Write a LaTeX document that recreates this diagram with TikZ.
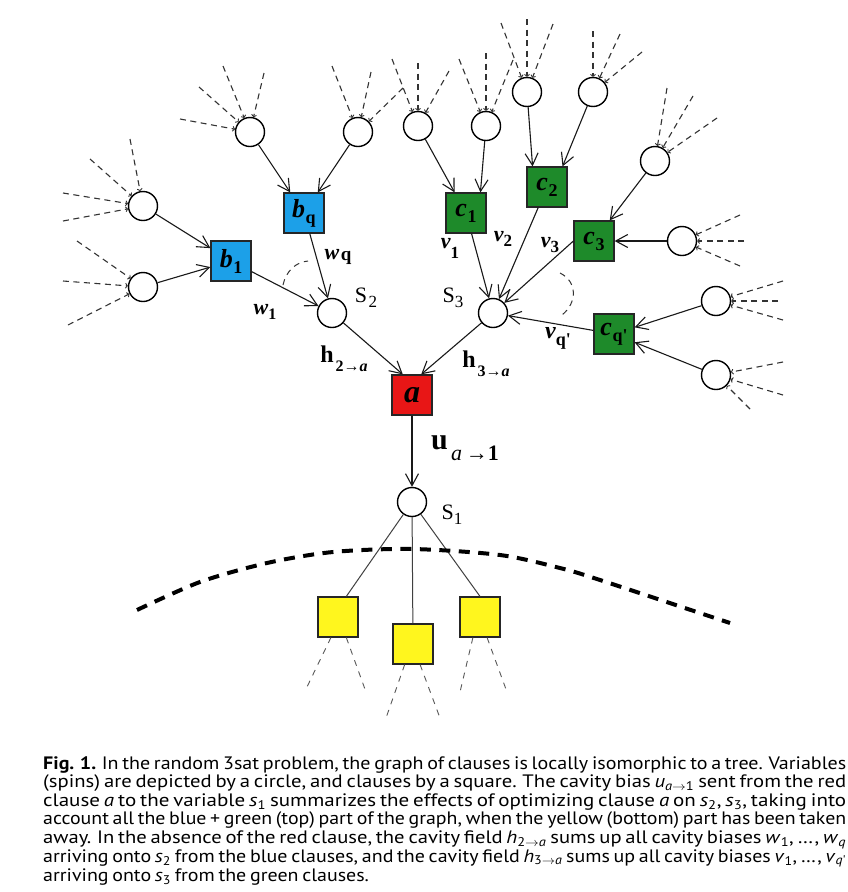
\documentclass[tikz,border=0pt]{standalone}
\usepackage{fontspec}
\setmainfont{Liberation Serif}
\newfontfamily\capfont{PT Sans}
\usetikzlibrary{arrows.meta}
\definecolor{bblue}{RGB}{28,160,232}
\definecolor{cgreen}{RGB}{30,138,42}
\definecolor{ared}{RGB}{232,22,22}
\definecolor{yyel}{RGB}{255,246,30}
\newcommand\fs[1]{\fontsize{#1}{#1}\selectfont}
\newcommand\boxlab[2]{{\fs{26}\bfseries\itshape #1}\kern0.5pt\raisebox{-6pt}{\fs{18}\bfseries #2}}
\newcommand\cv[2]{\textit{#1}\textsubscript{#2}}
\newsavebox\capbox
\newcommand\capline[1]{\sbox\capbox{#1}\pgfmathsetmacro\capr{803/\the\wd\capbox}\xdef\lastcapr{\capr}\scalebox{\capr}[1]{\usebox\capbox}}
\newcommand\caplast[1]{\scalebox{\lastcapr}[1]{#1}}
\tikzset{
  var/.style={circle,draw=black,line width=1.4pt,minimum size=29pt,inner sep=0pt,fill=white},
  clause/.style={rectangle,draw=black!85,line width=1.2pt,minimum size=40pt,inner sep=0pt},
  edge/.style={line width=1.1pt,draw=black!90,-{Straight Barb[length=12pt,width=13pt,line width=1.1pt]}},
  plainedge/.style={line width=1pt,draw=black!75},
  spoke/.style={line width=1.1pt,draw=black!80,dash pattern=on 6pt off 4.5pt,-{Straight Barb[length=1.8pt,width=5pt,line width=0.9pt]}},
  yspoke/.style={line width=0.9pt,draw=black!65,dash pattern=on 6pt off 6pt},
  anglearc/.style={line width=1pt,draw=black!80,dash pattern=on 6pt off 5pt},
  lab/.style={inner sep=0pt,anchor=center}
}
\begin{document}
\begin{tikzpicture}[x=1pt,y=-1pt]
\useasboundingbox (0,0) rectangle (848,892);
\fill[white] (0,0) rectangle (848,892);

% variables
\node[var] (L1) at (143,206) {};
\node[var] (L2) at (143,287) {};
\node[var] (B1) at (250,132) {};
\node[var] (B2) at (358,132) {};
\node[var] (C1a) at (418,126) {};
\node[var] (C1b) at (486,126) {};
\node[var] (C2a) at (527,92) {};
\node[var] (C2b) at (593,92) {};
\node[var] (C3a) at (655,161) {};
\node[var] (C3b) at (682,241) {};
\node[var] (Cq1) at (716,301) {};
\node[var] (Cq2) at (716,375) {};
\node[var] (s2) at (332,313) {};
\node[var] (s3) at (493,313) {};
\node[var] (s1) at (412,502) {};

% clauses
\node[clause,fill=bblue] (b1) at (231,261) {\boxlab{b}{1}};
\node[clause,fill=bblue] (bq) at (304,213) {\boxlab{b}{q}};
\node[clause,fill=cgreen] (c1) at (466,213) {\boxlab{c}{1}};
\node[clause,fill=cgreen] (c2) at (547,187) {\boxlab{c}{2}};
\node[clause,fill=cgreen] (c3) at (594,241) {\boxlab{c}{3}};
\node[clause,fill=cgreen] (cq) at (614,334) {\boxlab{c}{q\textquotesingle}};
\node[clause,fill=ared] (a) at (412,395) {{\fs{32}\bfseries\itshape a}};
\node[clause,fill=yyel] (Y1) at (338,617) {};
\node[clause,fill=yyel] (Y2) at (413,644) {};
\node[clause,fill=yyel] (Y3) at (480,617) {};

% dashed spokes of outer variables
\foreach \c/\x/\y [count=\i] in {
  L1/130/139, L1/90/159, L1/63/193, L1/63/221,
  L2/77/241, L2/63/281, L2/68/325,
  B1/223/66, B1/264/73, B1/199/87, B1/180/119,
  B2/332/66, B2/371/72, B2/403/88,
  C1a/392/59, C1a/418/63, C1a/449/71,
  C1b/459/59, C1b/486/53, C1b/513/60,
  C2a/501/23, C2a/527/19, C2a/553/24,
  C2b/593/31, C2b/620/34, C2b/642/52,
  C3a/667/88, C3a/693/96, C3a/717/118,
  C3b/740/215, C3b/744/241, C3b/740/266,
  Cq1/783/281, Cq1/778/301, Cq1/783/320,
  Cq2/783/362, Cq2/783/395, Cq2/750/409}
{
  \coordinate (sp\i) at (\x,\y);
  \draw[spoke] (sp\i) -- (\c);
}

% dashed lines below yellow clauses
\coordinate (y1a) at (305,691);
\coordinate (y1b) at (366,692);
\coordinate (y2a) at (386,718);
\coordinate (y2b) at (440,718);
\coordinate (y3a) at (460,692);
\coordinate (y3b) at (507,692);
\draw[yspoke] (Y1.-109) -- (y1a);
\draw[yspoke] (Y1.-68) -- (y1b);
\draw[yspoke] (Y2.-112) -- (y2a);
\draw[yspoke] (Y2.-71) -- (y2b);
\draw[yspoke] (Y3.-109) -- (y3a);
\draw[yspoke] (Y3.-71) -- (y3b);

% connectors
\draw[edge] (L1) -- (b1);
\draw[edge] (L2) -- (b1);
\draw[edge] (B1) -- (bq);
\draw[edge] (B2) -- (bq);
\draw[edge] (b1) -- (s2);
\draw[edge] (bq) -- (s2);
\draw[edge] (C1a) -- (c1);
\draw[edge] (C1b) -- (c1.55);
\draw[edge] (C2a) -- (c2.125);
\draw[edge] (C2b) -- (c2.53);
\draw[edge] (C3a) -- (c3);
\draw[edge] (C3b) -- (c3);
\draw[edge] (Cq1) -- (cq);
\draw[edge] (Cq2) -- (cq);
\draw[edge] (c1) -- (s3);
\draw[edge] (c2) -- (s3);
\draw[edge] (c3.west) -- (s3);
\draw[edge] (cq) -- (s3);
\draw[edge] (s2) -- (a.114);
\draw[edge] (s3) -- (a.66);
\draw[edge] (a) -- (s1);
\draw[plainedge] (s1) -- (Y1.68);
\draw[plainedge] (s1) -- (Y2);
\draw[plainedge] (s1) -- (Y3.north);

% angle arcs
\draw[anglearc] (283,285) .. controls (286,271) and (296,262) .. (308,261);
\draw[anglearc] (560,273) .. controls (578,282) and (577,303) .. (562,315);

% cut line
\draw[line width=4pt,dash pattern=on 11pt off 8.5pt] plot[smooth] coordinates
  {(137,610) (200,582) (267,563) (333,552) (412,549) (500,555) (560,568) (600,580) (730,623)};

% labels
\node[lab] (lw1) at (265,312) {{\fs{22}\bfseries\itshape w}\raisebox{-5pt}{\fs{16}\bfseries 1}};
\node[lab] (lwq) at (338,257) {{\fs{22}\bfseries\itshape w}\,\raisebox{-1pt}{\fs{19}\bfseries q}};
\node[lab] (ls2) at (366,298) {{\fs{22}S}\,\raisebox{-5pt}{\fs{17}2}};
\node[lab] (ls3) at (453,298) {{\fs{22}S}\raisebox{-5pt}{\fs{17}3}};
\node[lab] (ls1) at (452,515) {{\fs{22}S}\raisebox{-5pt}{\fs{17}1}};
\node[lab] (lv1) at (450,248) {{\fs{22}\bfseries\itshape v}\raisebox{-10pt}{\fs{17}\bfseries 1}};
\node[lab] (lv2) at (503,239) {{\fs{22}\bfseries\itshape v}\raisebox{-5pt}{\fs{17}\bfseries 2}};
\node[lab] (lv3) at (550,245) {{\fs{22}\bfseries\itshape v}\raisebox{-5pt}{\fs{17}\bfseries 3}};
\node[lab] (lvq) at (558,338) {{\fs{24}\bfseries\itshape v}\raisebox{-7pt}{\fs{18}\bfseries q\textquotesingle}};
\node[lab] (lh2) at (344,359) {{\fs{24}\bfseries h}\,\raisebox{-9pt}{\fs{16}\bfseries 2→\itshape a}};
\node[lab] (lh3) at (486,364) {{\fs{24}\bfseries h}\,\raisebox{-9pt}{\fs{16}\bfseries 3→\itshape a}};
\node[lab] (lu) at (465,448) {{\fs{30}\bfseries u}\,\,\raisebox{-11pt}{\fs{22}\textit{a}\,→\textbf{1}}};

% caption
\node[anchor=north west,inner sep=0pt,text width=803pt,align=left] (cap) at (43,756)
{\capfont\fontsize{18}{18.6}\selectfont\lineskiplimit=-20pt
\capline{\textbf{Fig. 1.} In the random 3sat problem, the graph of clauses is locally isomorphic to a tree. Variables}\\
\capline{(spins) are depicted by a circle, and clauses by a square. The cavity bias \cv{u}{\textit{a}\ensuremath{\rightarrow}1} sent from the red}\\
\capline{clause \textit{a} to the variable \cv{s}{1} summarizes the effects of optimizing clause \textit{a} on \cv{s}{2}, \cv{s}{3}, taking into}\\
\capline{account all the blue + green (top) part of the graph, when the yellow (bottom) part has been taken}\\
\capline{away. In the absence of the red clause, the cavity field \cv{h}{2\ensuremath{\rightarrow}\textit{a}} sums up all cavity biases \cv{w}{1}, \dots, \cv{w}{\textit{q}}}\\
\capline{arriving onto \cv{s}{2} from the blue clauses, and the cavity field \cv{h}{3\ensuremath{\rightarrow}\textit{a}} sums up all cavity biases \cv{v}{1}, \dots, \cv{v}{\textit{q}\textquotesingle}}\\
\caplast{arriving onto \cv{s}{3} from the green clauses.}};
\end{tikzpicture}
\end{document}
